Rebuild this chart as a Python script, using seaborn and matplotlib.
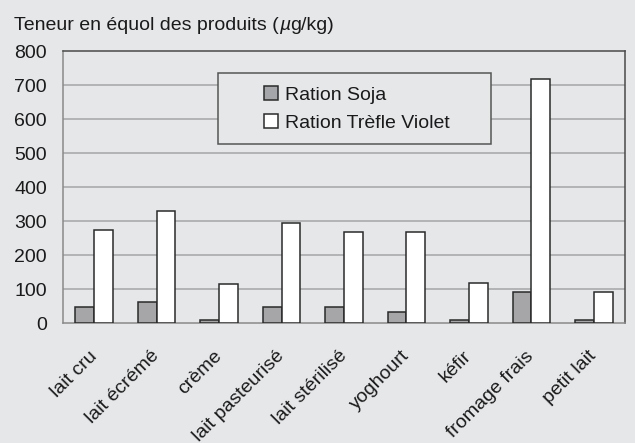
import matplotlib
matplotlib.use("Agg")
import matplotlib.pyplot as plt
import seaborn as sns
import pandas as pd
import numpy as np
from matplotlib.patches import Patch, Rectangle

categories = ["lait cru", "lait écrémé", "crème", "lait pasteurisé", "lait stérilisé",
              "yoghourt", "kéfir", "fromage frais", "petit lait"]
soja = [47, 63, 10, 47, 47, 31, 10, 91, 10]
trefle = [275, 328, 115, 293, 268, 268, 119, 717, 90]
series = ["Ration Soja", "Ration Trèfle Violet"]
yticks = [0, 100, 200, 300, 400, 500, 600, 700, 800]

df = pd.DataFrame({
    "cat": categories * 2,
    "val": soja + trefle,
    "serie": [series[0]] * len(categories) + [series[1]] * len(categories),
})

sns.set_style("white")
plt.rcParams["font.family"] = ["Liberation Sans", "DejaVu Sans"]
bg = "#e6e7e9"
W, H = 635, 443
fig = plt.figure(figsize=(W / 100, H / 100), dpi=100, facecolor=bg)
ax = fig.add_axes([63 / W, 1 - 323 / H, (625 - 63) / W, (323 - 51) / H])
ax.set_facecolor(bg)

colors = {series[0]: "#a5a6a9", series[1]: "#ffffff"}
sns.barplot(data=df, x="cat", y="val", hue="serie", palette=colors, width=0.6,
            edgecolor="#2a2a2a", linewidth=1.1, ax=ax, legend=False, zorder=3)

ax.set_ylim(0, 800)
ax.set_xlim(-0.5, len(categories) - 0.5)
ax.set_yticks(yticks)
ax.set_yticklabels([str(v) for v in yticks], fontsize=14, color="#1a1a1a")
for v in yticks[1:-1]:
    ax.axhline(v, color="#a9aaac", lw=1.2, zorder=1)
ax.set_xlabel("")
ax.set_ylabel("")
ax.set_xticks(range(len(categories)))
ax.set_xticklabels(categories, rotation=45, ha="right", va="center", rotation_mode="anchor",
                   fontsize=14, color="#1a1a1a")
ax.tick_params(axis="x", which="major", length=0, pad=22)
ax.tick_params(axis="y", length=4.5, color="#8a8a8a", width=1, pad=7, direction="out")
ax.set_xticks(np.arange(-0.5, len(categories)), minor=True)
ax.tick_params(axis="x", which="minor", length=5, color="#8a8a8a", width=1, direction="out")

for s in ["left", "bottom"]:
    ax.spines[s].set_color("#8a8a8a")
    ax.spines[s].set_linewidth(1.1)
for s in ["right", "top"]:
    ax.spines[s].set_visible(True)
    ax.spines[s].set_color("#4a4a4a")
    ax.spines[s].set_linewidth(1.1)

frame = Rectangle((218 / W, 1 - 144 / H), 273 / W, 71 / H, transform=fig.transFigure,
                  facecolor=bg, edgecolor="#555555", lw=1.1, zorder=4, clip_on=False)
ax.add_patch(frame)

handles = [Patch(facecolor=colors[s], edgecolor="#2a2a2a", lw=1.1, label=s) for s in series]
leg = ax.legend(handles=handles, loc="center left", bbox_to_anchor=(264 / W, 1 - 109 / H),
                bbox_transform=fig.transFigure, frameon=False, fontsize=14,
                handlelength=0.72, handleheight=0.72, handletextpad=0.38,
                borderpad=0, labelspacing=0.55, borderaxespad=0)
leg.set_zorder(5)
for txt in leg.get_texts():
    txt.set_color("#1a1a1a")

ty = 1 - 26 / H
t1 = fig.text(14 / W, ty, "Teneur en équol des produits (", fontsize=14,
              va="center", ha="left", color="#1a1a1a")
fig.canvas.draw()
r = fig.canvas.get_renderer()
bb = t1.get_window_extent(r)
mu = fig.text(bb.x1 / fig.bbox.width, ty, "µ", fontsize=14, style="italic",
              va="center", ha="left", color="#1a1a1a")
bb2 = mu.get_window_extent(r)
fig.text(bb2.x1 / fig.bbox.width, ty, "g/kg)", fontsize=14, va="center", ha="left", color="#1a1a1a")

fig.savefig("out.png", dpi=100, facecolor=bg)
